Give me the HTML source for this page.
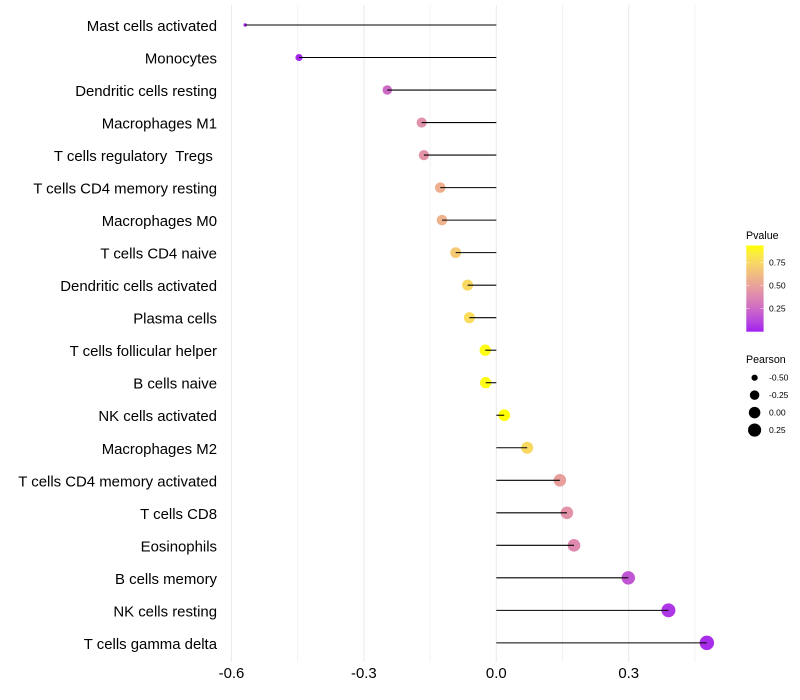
<!DOCTYPE html>
<html>
<head>
<meta charset="utf-8">
<title>Pearson lollipop chart</title>
<style>
html,body{margin:0;padding:0;background:#fff;width:800px;height:700px;overflow:hidden}
svg{display:block;font-family:"Liberation Sans",sans-serif}
</style>
</head>
<body>
<svg id="chart" width="800" height="700" viewBox="0 0 800 700" xmlns="http://www.w3.org/2000/svg"></svg>
<script>
const categories = ["Mast cells activated","Monocytes","Dendritic cells resting","Macrophages M1","T cells regulatory  Tregs ","T cells CD4 memory resting","Macrophages M0","T cells CD4 naive","Dendritic cells activated","Plasma cells","T cells follicular helper","B cells naive","NK cells activated","Macrophages M2","T cells CD4 memory activated","T cells CD8","Eosinophils","B cells memory","NK cells resting","T cells gamma delta"];
const pearson = [-0.569,-0.447,-0.247,-0.169,-0.164,-0.127,-0.123,-0.092,-0.065,-0.061,-0.025,-0.024,0.018,0.070,0.144,0.160,0.176,0.299,0.390,0.477];
const pvalue = [0.01,0.02,0.25,0.42,0.43,0.56,0.57,0.68,0.75,0.77,0.92,0.92,0.93,0.75,0.48,0.43,0.39,0.17,0.06,0.03];
const majorTicks = [-0.6,-0.3,0,0.3];
const minorTicks = [-0.45,-0.15,0.15,0.45];
const tickLabels = ["-0.6","-0.3","0.0","0.3"];
const colorTicks = [0.25,0.5,0.75];
const colorLabels = ["0.25","0.50","0.75"];
const sizeTicks = [-0.5,-0.25,0,0.25];
const sizeLabels = ["-0.50","-0.25","0.00","0.25"];

const NS = "http://www.w3.org/2000/svg";
const svg = document.getElementById("chart");
function mk(tag, attrs, parent, text){
  const e = document.createElementNS(NS, tag);
  for (const k in attrs) e.setAttribute(k, attrs[k]);
  if (text !== undefined) { e.textContent = text; e.setAttribute("xml:space","preserve"); e.style.whiteSpace = "pre"; }
  (parent || svg).appendChild(e);
  return e;
}
const xScale = v => 496.3 + 441.4 * v;
const yScale = i => 25 + 32.52 * i;
const legendY = p => 331.7 - (p / 0.25) * 23;

function rgb2lab(c){
  let v = c.map(x => { x /= 255; return x > 0.04045 ? Math.pow((x + 0.055) / 1.055, 2.4) : x / 12.92; });
  const X = (0.4124*v[0]+0.3576*v[1]+0.1805*v[2]) / 0.95047;
  const Y = 0.2126*v[0]+0.7152*v[1]+0.0722*v[2];
  const Z = (0.0193*v[0]+0.1192*v[1]+0.9505*v[2]) / 1.08883;
  const f = t => t > 0.008856 ? Math.cbrt(t) : 7.787*t + 16/116;
  return [116*f(Y)-16, 500*(f(X)-f(Y)), 200*(f(Y)-f(Z))];
}
function lab2rgb(l){
  const fy = (l[0]+16)/116, fx = l[1]/500+fy, fz = fy-l[2]/200;
  const g = t => t*t*t > 0.008856 ? t*t*t : (t-16/116)/7.787;
  const X = g(fx)*0.95047, Y = g(fy), Z = g(fz)*1.08883;
  const o = [3.2406*X-1.5372*Y-0.4986*Z, -0.9689*X+1.8758*Y+0.0415*Z, 0.0557*X-0.2040*Y+1.0570*Z];
  return o.map(x => { x = x > 0.0031308 ? 1.055*Math.pow(x,1/2.4)-0.055 : 12.92*x; return Math.round(Math.min(1,Math.max(0,x))*255); });
}
const labLow = rgb2lab([160,32,240]);
const labHigh = rgb2lab([255,255,0]);
function colorAt(p){
  const t = Math.min(1, Math.max(0, p / 0.93));
  const c = lab2rgb(labLow.map((a,i) => a + (labHigh[i]-a)*t));
  return "rgb(" + c.join(",") + ")";
}
const minP = Math.min(...pearson), maxP = Math.max(...pearson);
function diameter(v){
  const t = Math.min(1, Math.max(0, (v - minP) / (maxP - minP)));
  return 3.4 + 11 * Math.sqrt(t);
}

const gridGroup = mk("g", {});


minorTicks.forEach(v => {
  const l = mk("line", {x1:xScale(v), x2:xScale(v), y1:5, y2:662, stroke:"#f0f0f0", "stroke-width":0.8}, gridGroup);
  
  
});
majorTicks.forEach(v => {
  const l = mk("line", {x1:xScale(v), x2:xScale(v), y1:5, y2:662, stroke:"#ebebeb", "stroke-width":1.07}, gridGroup);
  
  
});

categories.forEach((c,i) => {
  const dot = mk("circle", {cx:xScale(pearson[i]), cy:yScale(i), r:diameter(pearson[i])/2, fill:colorAt(pvalue[i])});
  
  
});
categories.forEach((c,i) => {
  const seg = mk("line", {x1:xScale(0), x2:xScale(pearson[i]), y1:yScale(i), y2:yScale(i), stroke:"#000", "stroke-width":1.07});
  
  
  const lab = mk("text", {x:217, y:yScale(i)+6, "text-anchor":"end", "font-size":14.93, fill:"#000"}, svg, c);
  
  
});
majorTicks.forEach((v,i) => {
  const t = mk("text", {x:xScale(v), y:678, "text-anchor":"middle", "font-size":14.93, fill:"#000"}, svg, tickLabels[i]);
  
  
});

const title1 = mk("text", {x:746, y:239, "font-size":10.67, fill:"#000"}, svg, "Pvalue");


const defs = mk("defs", {});
const grad = mk("linearGradient", {id:"pgrad", x1:0, y1:1, x2:0, y2:0}, defs);
for (let s = 0; s <= 10; s++) {
  mk("stop", {offset:(s*10)+"%", "stop-color":colorAt(0.93*s/10)}, grad);
}
const bar = mk("rect", {x:746.3, y:245.5, width:17.3, height:86.2, fill:"url(#pgrad)"});


colorTicks.forEach((p,i) => {
  const y = legendY(p);
  mk("line", {x1:746.3, x2:749.8, y1:y, y2:y, stroke:"#fff", "stroke-width":0.5, "stroke-opacity":0.8});
  mk("line", {x1:760.1, x2:763.6, y1:y, y2:y, stroke:"#fff", "stroke-width":0.5, "stroke-opacity":0.8});
  const t = mk("text", {x:769, y:y+3, "font-size":8.53, fill:"#000"}, svg, colorLabels[i]);
  
  
});

const title2 = mk("text", {x:746, y:363, "font-size":10.67, fill:"#000"}, svg, "Pearson");


sizeTicks.forEach((v,i) => {
  const y = 377.7 + 17.45 * i;
  const k = mk("circle", {cx:754.6, cy:y, r:diameter(v)/2, fill:"#000"});
  
  
  const t = mk("text", {x:769, y:y+3, "font-size":8.53, fill:"#000"}, svg, sizeLabels[i]);
  
  
});
</script>
</body>
</html>
